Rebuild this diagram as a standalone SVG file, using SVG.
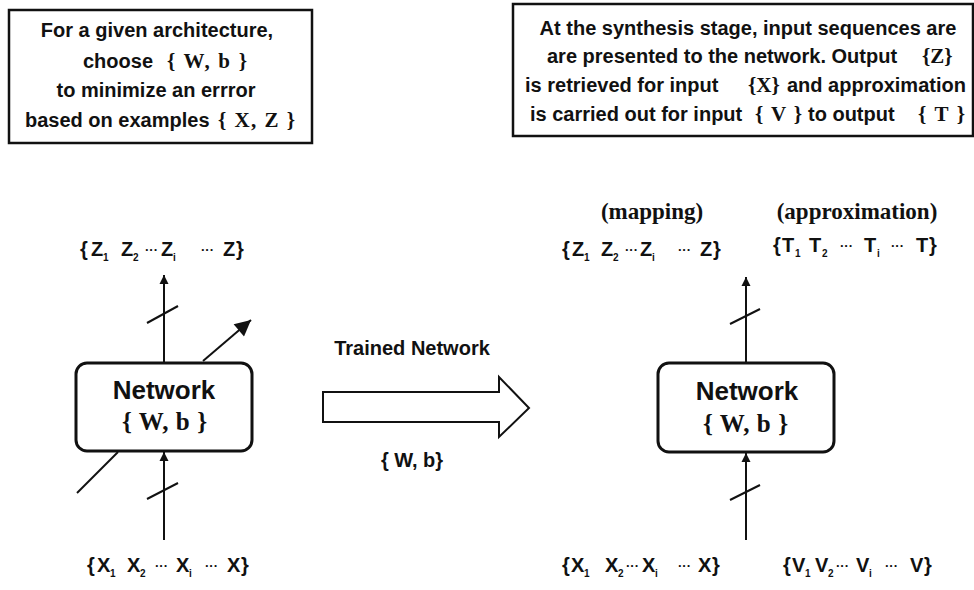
<svg xmlns="http://www.w3.org/2000/svg" width="974" height="590" viewBox="0 0 974 590">
<defs>
<style>
.box{fill:#fff;stroke:#111;stroke-width:2.5}
.note{font-family:"Liberation Sans",Arial,sans-serif;font-weight:bold;font-size:20px;fill:#111}
.mid{text-anchor:middle}
.ser{font-family:"Liberation Serif","Times New Roman",serif;font-weight:bold;font-size:21px;fill:#111}
.net{fill:#fff;stroke:#111;stroke-width:3}
.nt{font-family:"Liberation Sans",Arial,sans-serif;font-weight:bold;font-size:26px;fill:#111;text-anchor:middle}
.nw{font-family:"Liberation Serif","Times New Roman",serif;font-weight:bold;font-size:25px;fill:#111}
.set{font-family:"Liberation Sans",Arial,sans-serif;font-weight:bold;font-size:20px;fill:#111}
.sb{font-size:10px}
.dt{font-size:13px}
.lbl{font-family:"Liberation Serif","Times New Roman",serif;font-weight:bold;font-size:23px;fill:#111;text-anchor:middle}
.ln{stroke:#111;stroke-width:2;fill:none}
.big{fill:#fff;stroke:#111;stroke-width:2}
.cap{font-family:"Liberation Sans",Arial,sans-serif;font-weight:bold;font-size:20px;fill:#111;text-anchor:middle}
</style>
<marker id="ah" viewBox="0 0 10 10" refX="10" refY="5" markerWidth="9" markerHeight="13" markerUnits="userSpaceOnUse" orient="auto">
<path d="M0,0 L10,5 L0,10 z" fill="#111"/>
</marker>
<marker id="ahb" viewBox="0 0 10 10" refX="10" refY="5" markerWidth="22" markerHeight="16" markerUnits="userSpaceOnUse" orient="auto">
<path d="M0,0 L10,5 L0,10 z" fill="#111"/>
</marker>
</defs>
<rect width="974" height="590" fill="#fff"/>

<g id="note-training">
<rect class="box" x="9" y="10" width="303" height="133"/>
<text class="note mid" x="157" y="37">For a given architecture,</text>
<text class="note" x="83" y="68">choose</text>
<text class="ser" x="167" y="68" textLength="80" lengthAdjust="spacing">{ W, b }</text>
<text class="note mid" x="156" y="97">to minimize an errror</text>
<text class="note" x="25" y="127">based on examples</text>
<text class="ser" x="218" y="127" textLength="77" lengthAdjust="spacing">{ X, Z }</text>
</g>

<g id="note-synthesis">
<rect class="box" x="513" y="4" width="460" height="132"/>
<text class="note mid" x="748" y="35">At the synthesis stage, input sequences are</text>
<text class="note" x="547" y="63">are presented to the network. Output</text>
<text class="ser" x="922" y="63">{Z}</text>
<text class="note" x="525" y="92">is retrieved for input</text>
<text class="ser" x="748" y="92">{X}</text>
<text class="note" x="787" y="92">and approximation</text>
<text class="note" x="530" y="121">is carried out for input</text>
<text class="ser" x="755" y="121" textLength="47" lengthAdjust="spacing">{ V }</text>
<text class="note" x="808" y="121">to output</text>
<text class="ser" x="918" y="121" textLength="47" lengthAdjust="spacing">{ T }</text>
</g>

<g id="connectors">
<line class="ln" x1="164" y1="363" x2="164" y2="275" marker-end="url(#ah)"/>
<line class="ln" x1="147" y1="323" x2="178" y2="306"/>
<line class="ln" x1="164" y1="540" x2="164" y2="452" marker-end="url(#ah)"/>
<line class="ln" x1="147" y1="499" x2="178" y2="483"/>
<line class="ln" x1="77" y1="493" x2="118" y2="452"/>
<line class="ln" x1="203" y1="361" x2="251" y2="320" marker-end="url(#ahb)"/>
<line class="ln" x1="746" y1="363" x2="746" y2="277" marker-end="url(#ah)"/>
<line class="ln" x1="730" y1="324" x2="760" y2="309"/>
<line class="ln" x1="746" y1="540" x2="746" y2="453" marker-end="url(#ah)"/>
<line class="ln" x1="730" y1="500" x2="760" y2="485"/>
<path class="big" d="M323,392 L499,392 L499,377 L529,408 L499,437 L499,422 L323,422 z"/>
</g>

<g id="network-left">
<rect class="net" x="76" y="363" width="176" height="88" rx="11"/>
<text class="nt" x="164" y="399">Network</text>
<text class="nw" x="122" y="430" textLength="85" lengthAdjust="spacing">{ W, b }</text>
</g>

<g id="network-right">
<rect class="net" x="658" y="363" width="176" height="89" rx="11"/>
<text class="nt" x="747" y="400">Network</text>
<text class="nw" x="703" y="432" textLength="85" lengthAdjust="spacing">{ W, b }</text>
</g>

<g id="trained">
<text class="cap" x="412" y="355">Trained Network</text>
<text class="cap" x="412" y="467" font-size="18">{ W, b}</text>
</g>

<g id="set-z-left">
<text class="set" y="256"><tspan x="80">{</tspan><tspan x="91">Z</tspan><tspan class="sb" x="103" dy="5">1</tspan><tspan x="121" dy="-5">Z</tspan><tspan class="sb" x="133" dy="5">2</tspan><tspan class="dt" x="145" dy="-7">···</tspan><tspan x="161" dy="2">Z</tspan><tspan class="sb" x="173" dy="5">i</tspan><tspan class="dt" x="201" dy="-7">···</tspan><tspan x="223" dy="2">Z</tspan><tspan x="236">}</tspan></text>
</g>
<g id="set-x-left">
<text class="set" y="572"><tspan x="87">{</tspan><tspan x="97">X</tspan><tspan class="sb" x="110" dy="5">1</tspan><tspan x="127" dy="-5">X</tspan><tspan class="sb" x="140" dy="5">2</tspan><tspan class="dt" x="155" dy="-7">···</tspan><tspan x="176" dy="2">X</tspan><tspan class="sb" x="189" dy="5">i</tspan><tspan class="dt" x="205" dy="-7">···</tspan><tspan x="227" dy="2">X</tspan><tspan x="241">}</tspan></text>
</g>
<g id="label-mapping">
<text class="lbl" x="652" y="219">(mapping)</text>
</g>
<g id="label-approximation">
<text class="lbl" x="857" y="219">(approximation)</text>
</g>
<g id="set-z-right">
<text class="set" y="256"><tspan x="562">{</tspan><tspan x="572">Z</tspan><tspan class="sb" x="584" dy="5">1</tspan><tspan x="601" dy="-5">Z</tspan><tspan class="sb" x="613" dy="5">2</tspan><tspan class="dt" x="625" dy="-7">···</tspan><tspan x="640" dy="2">Z</tspan><tspan class="sb" x="652" dy="5">i</tspan><tspan class="dt" x="678" dy="-7">···</tspan><tspan x="700" dy="2">Z</tspan><tspan x="713">}</tspan></text>
</g>
<g id="set-t-right">
<text class="set" y="252"><tspan x="773">{</tspan><tspan x="782">T</tspan><tspan class="sb" x="795" dy="5">1</tspan><tspan x="809" dy="-5">T</tspan><tspan class="sb" x="822" dy="5">2</tspan><tspan class="dt" x="840" dy="-7">···</tspan><tspan x="864" dy="2">T</tspan><tspan class="sb" x="877" dy="5">i</tspan><tspan class="dt" x="891" dy="-7">···</tspan><tspan x="916" dy="2">T</tspan><tspan x="929">}</tspan></text>
</g>
<g id="set-x-right">
<text class="set" y="572"><tspan x="562">{</tspan><tspan x="571">X</tspan><tspan class="sb" x="584" dy="5">1</tspan><tspan x="605" dy="-5">X</tspan><tspan class="sb" x="618" dy="5">2</tspan><tspan class="dt" x="626" dy="-7">···</tspan><tspan x="642" dy="2">X</tspan><tspan class="sb" x="655" dy="5">i</tspan><tspan class="dt" x="678" dy="-7">···</tspan><tspan x="698" dy="2">X</tspan><tspan x="712">}</tspan></text>
</g>
<g id="set-v-right">
<text class="set" y="572"><tspan x="783">{</tspan><tspan x="792">V</tspan><tspan class="sb" x="805" dy="5">1</tspan><tspan x="815" dy="-5">V</tspan><tspan class="sb" x="828" dy="5">2</tspan><tspan class="dt" x="836" dy="-7">···</tspan><tspan x="856" dy="2">V</tspan><tspan class="sb" x="869" dy="5">i</tspan><tspan class="dt" x="885" dy="-7">···</tspan><tspan x="910" dy="2">V</tspan><tspan x="924">}</tspan></text>
</g>
</svg>
